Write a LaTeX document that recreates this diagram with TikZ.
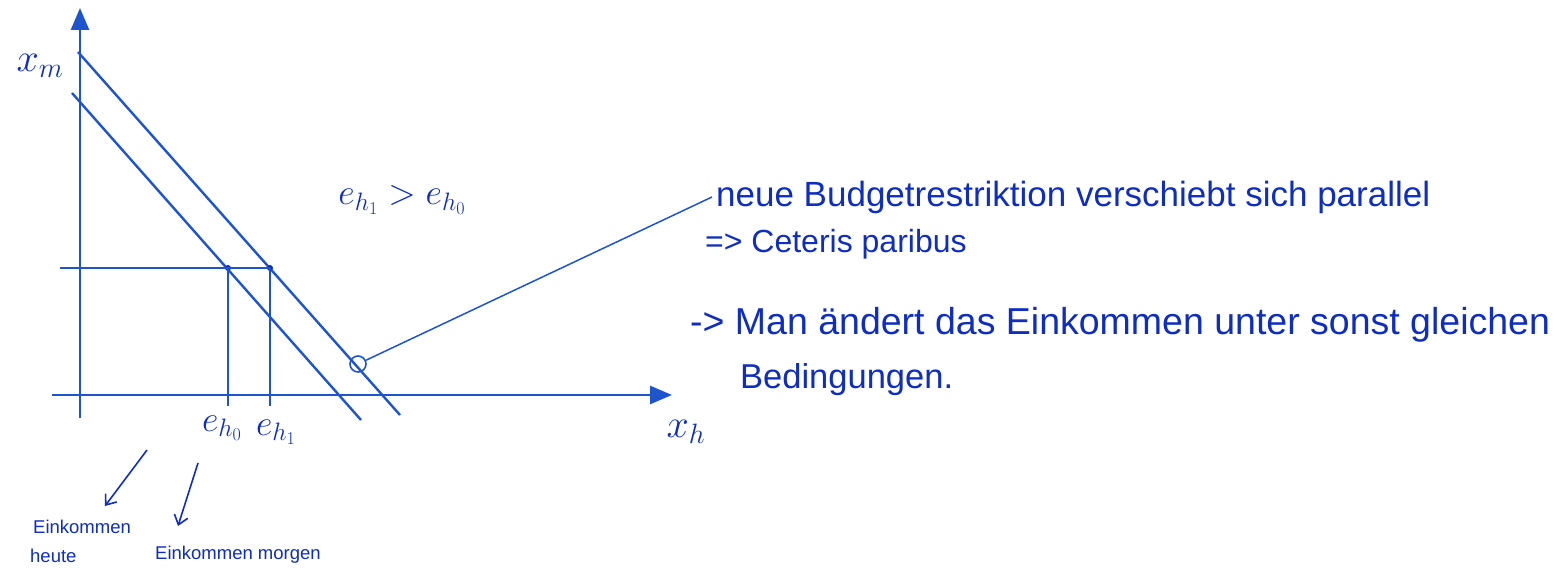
\RequirePackage{fix-cm}
\documentclass[tikz,border=0pt]{standalone}
\usepackage{fontspec}
\setmainfont{Liberation Sans}
\usetikzlibrary{arrows.meta}
\definecolor{ink}{RGB}{15,45,190}
\definecolor{pen}{RGB}{30,85,205}
\begin{document}
\begin{tikzpicture}[x=1pt,y=-1pt,
  axis/.style={draw=pen,line width=2.6pt,-{Triangle[width=18pt,length=22pt]}},
  budget/.style={draw=pen,line width=2.4pt},
  guide/.style={draw=pen,line width=2pt},
  lbl/.style={text=ink,inner sep=0pt},
  note/.style={text=ink,inner sep=0pt,anchor=west},
  pointer/.style={draw=ink,line width=1.6pt,-{Straight Barb[width=14pt,length=9pt]}},
  leader/.style={draw=pen,line width=1.5pt},
  dot/.style={circle,fill=ink,inner sep=0pt,minimum size=6pt}]
\useasboundingbox[fill=white] (0,0) rectangle (1561,580);
% axes
\coordinate (yb) at (80,418);
\coordinate (yt) at (80,8);
\coordinate (xl) at (52,395);
\coordinate (xr) at (672,395);
\draw[axis] (yb) -- (yt);
\draw[axis] (xl) -- (xr);
% budget lines
\coordinate (o1) at (78,52);
\coordinate (o2) at (400,415);
\coordinate (i1) at (72,93);
\coordinate (i2) at (361,420);
\draw[budget] (o1) -- (o2);
\draw[budget] (i1) -- (i2);
% guide lines
\coordinate (hl) at (60,268);
\node[dot] (p0) at (228,268) {};
\node[dot] (p1) at (270,268) {};
\coordinate (v0) at (228,406);
\coordinate (v1) at (270,406);
\draw[guide] (hl) -- (p1.center);
\draw[guide] (p0.center) -- (v0);
\draw[guide] (p1.center) -- (v1);
% circle marker
\node[circle,draw=pen,line width=1.6pt,minimum size=16pt,inner sep=0pt] (c) at (358,364) {};
% labels
\node[lbl,font=\fontsize{40}{44}\selectfont] (xm) at (40,66) {$x_m$};
\node[lbl,font=\fontsize{40}{44}\selectfont] (xh) at (686,432) {$x_h$};
\node[lbl,font=\fontsize{36}{40}\selectfont] (eh0) at (222,428) {$e_{h_0}$};
\node[lbl,font=\fontsize{36}{40}\selectfont] (eh1) at (276,432) {$e_{h_1}$};
\node[lbl,font=\fontsize{36}{40}\selectfont] (cmp) at (402,200) {$e_{h_1} > e_{h_0}$};
% lower notes
\node[note,font=\fontsize{18.5}{22}\selectfont] (ek1) at (33,527) {Einkommen};
\node[note,font=\fontsize{18.5}{22}\selectfont] (heu) at (30,556) {heute};
\node[note,font=\fontsize{18.5}{22}\selectfont] (ek2) at (155,555) {Einkommen morgen};
\coordinate (a0) at (147,450);
\coordinate (a0t) at (105,506);
\coordinate (a1) at (198,463);
\coordinate (a1t) at (178,526);
\draw[pointer] (a0) -- (a0t);
\draw[pointer] (a1) -- (a1t);
% right notes
\node[note,font=\fontsize{35}{40}\selectfont] (n1) at (716,197) {neue Budgetrestriktion verschiebt sich parallel};
\node[note,font=\fontsize{32}{36}\selectfont] (n2) at (705,244) {=> Ceteris paribus};
\node[note,font=\fontsize{37.5}{42}\selectfont] (n3) at (690,325) {-> Man ändert das Einkommen unter sonst gleichen};
\node[note,font=\fontsize{34.5}{40}\selectfont] (n4) at (740,380) {Bedingungen.};
\draw[leader] (c) -- ([xshift=-4pt]n1.west);
\end{tikzpicture}
\end{document}
